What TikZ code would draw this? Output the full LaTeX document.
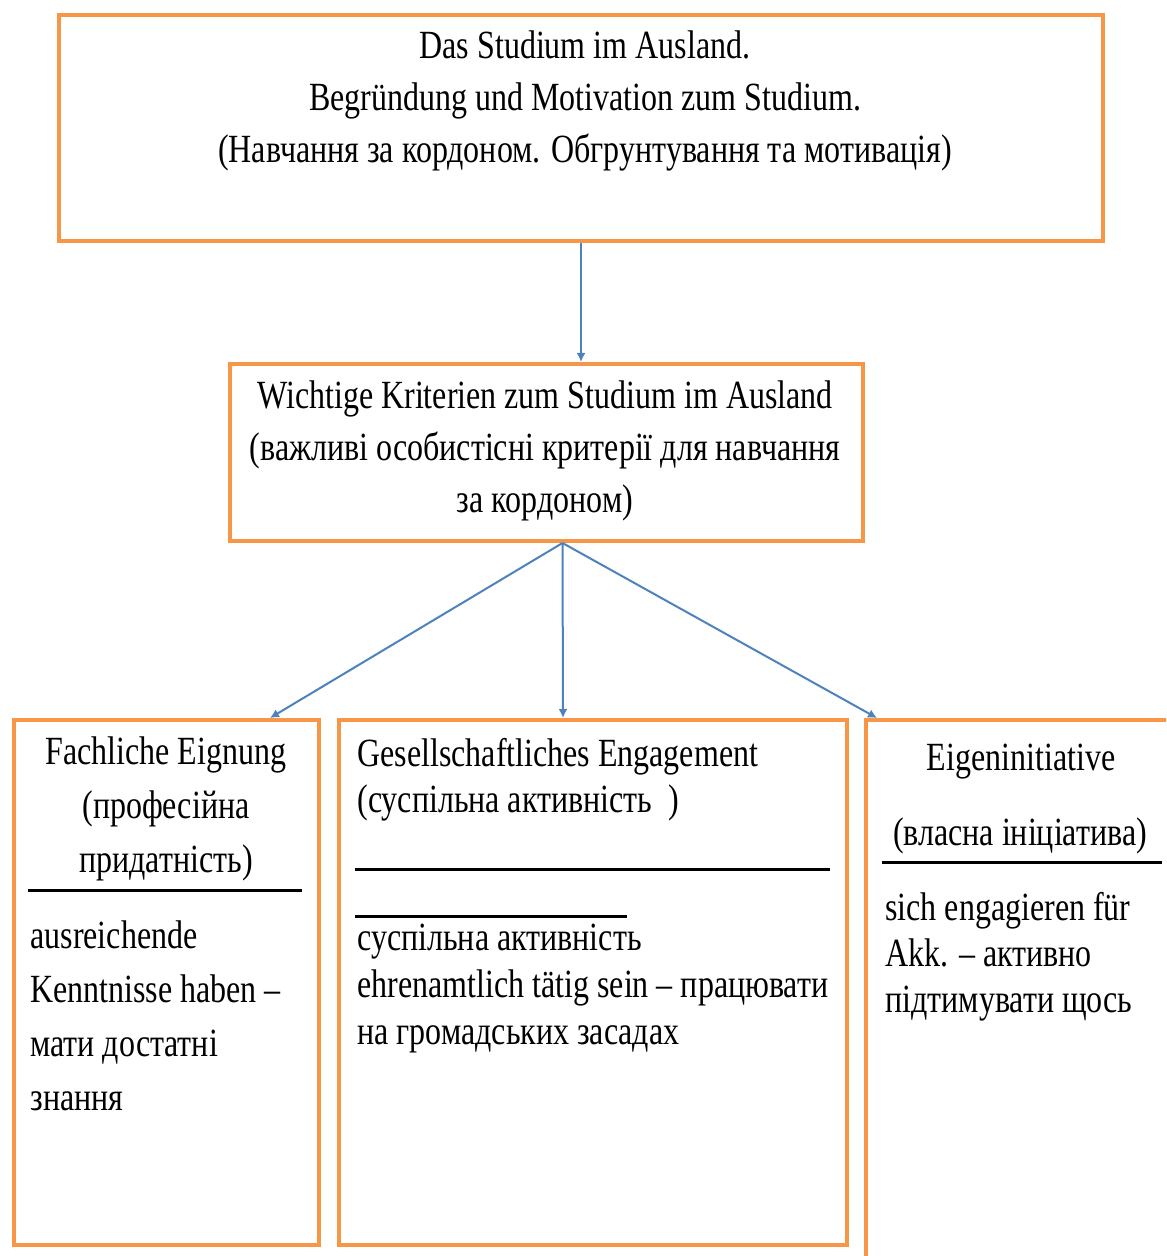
\documentclass[tikz,border=0pt]{standalone}
\usepackage{fontspec}
\setmainfont[FakeStretch=0.8]{Liberation Serif}
\usetikzlibrary{arrows.meta}
\definecolor{boxorange}{HTML}{F79646}
\definecolor{linkblue}{HTML}{4F81BD}

\begin{document}
\begin{tikzpicture}[
  x=0.5pt, y=-0.5pt,
  bx/.style={draw=boxorange, line width=2pt, inner sep=0pt},
  tx/.style={font=\fontsize{20}{26}\selectfont, inner sep=0pt, align=center, anchor=base},
  tl/.style={tx, align=left, anchor=base west},
  rl/.style={draw, line width=1.5pt},
  >={Latex[length=4.5pt,width=4.5pt]},
  every edge/.style={draw=linkblue, line width=1pt, ->}
]
\useasboundingbox (0,0) rectangle (1166,1256);
\clip (0,0) rectangle (1166,1256);

% boxes
\node[bx, minimum width=522pt,   minimum height=113pt]   (top) at (581,128)    {};
\node[bx, minimum width=316.5pt, minimum height=88.5pt]  (mid) at (546.5,452.5) {};
\node[bx, minimum width=152.5pt, minimum height=262.5pt] (lft) at (166.5,982.5) {};
\node[bx, minimum width=254pt,   minimum height=262.5pt] (ctr) at (593,982.5)   {};
\node[bx, minimum width=162pt,   minimum height=290pt]   (rgt) at (1028,1010)   {};

% texts (placed at the baseline of their last line)
\node[tx] (ttop) at (585,163)
  {Das Studium im Ausland.\\Begründung und Motivation zum Studium.\\(Навчання за кордоном. Обгрунтування та мотивація)};
\node[tx] (tmid) at (545,512)
  {Wichtige Kriterien zum Studium im Ausland\\(важливі особистісні критерії для навчання\\за кордоном)};

\node[tx, font=\fontsize{20}{27}\selectfont] (hlft) at (166,872)
  {Fachliche Eignung\\(професійна\\придатність)};
\node[tl, font=\fontsize{20}{27}\selectfont] (blft) at (30,1110)
  {ausreichende\\Kenntnisse haben –\\мати достатні\\знання};

\node[tl, font=\fontsize{20}{23}\selectfont] (hctr) at (357,812)
  {Gesellschaftliches Engagement\\(суспільна активність\ \ )};
\node[tl, font=\fontsize{20}{23.5}\selectfont] (bctr) at (357,1044)
  {суспільна активність\\ehrenamtlich tätig sein – працювати\\на громадських засадах};

\node[tx] (hrgt) at (1021,770) {Eigeninitiative};
\node[tx] (srgt) at (1020,845) {(власна ініціатива)};
\node[tl, font=\fontsize{20}{23}\selectfont] (brgt) at (885,1012)
  {sich engagieren für\\Akk. – активно\\підтимувати щось};

% rules
\draw[rl] (28,890) -- (302,890);
\draw[rl] (355,869) -- (830,869);
\draw[rl] (355,916) -- (627,916);
\draw[rl] (882,862) -- (1162,862);

% connectors
\coordinate (fork) at ([xshift=8pt]mid.south);
\draw (top.south) edge (top.south |- mid.north);
\draw (fork) edge ([xshift=-25.5pt]lft.north east)
      (fork) edge ([xshift=-15pt]ctr.north)
      (fork) edge ([xshift=6.5pt]rgt.north west);

\end{tikzpicture}
\end{document}
